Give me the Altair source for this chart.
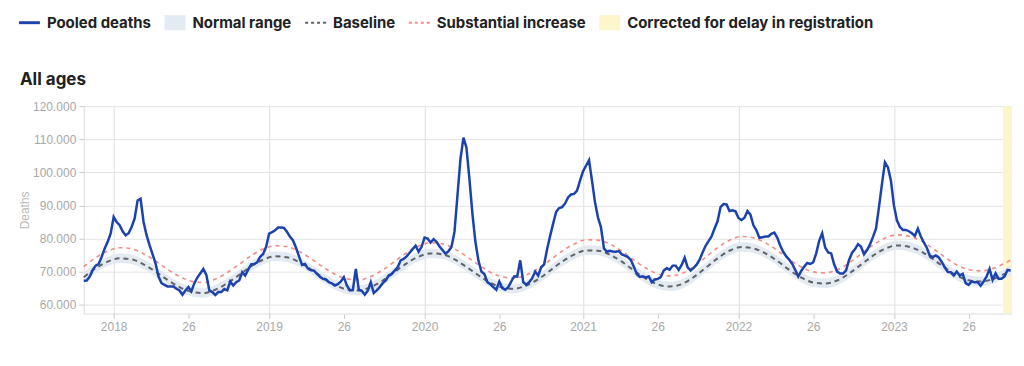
import altair as alt
import pandas as pd

# ---------------- data (deaths in thousands) ----------------
# weekly pooled deaths, week index 0 = 2017-W43 ... 310 = 2023-W40
pooled_deaths_k = [
    67.2, 67.3, 68.5, 70.5, 71.8, 72.3, 74.5, 77.0, 79.0, 81.5,
    86.5, 85.0, 84.0, 82.2, 81.0, 81.6, 83.5, 86.0, 91.5, 92.0,
    85.0, 81.0, 78.0, 75.3, 72.5, 68.5, 66.5, 66.0, 65.5, 65.5,
    65.5, 64.8, 64.3, 63.0, 64.3, 65.3, 64.0, 66.5, 68.2, 69.5,
    70.8, 69.0, 64.3, 63.8, 62.9, 63.8, 63.8, 64.7, 64.3, 67.0,
    65.8, 66.8, 67.3, 69.8, 68.8, 70.6, 72.2, 72.3, 72.8, 74.5,
    75.3, 77.5, 81.5, 81.9, 82.5, 83.3, 83.3, 83.2, 82.0, 80.5,
    79.4, 77.2, 74.6, 72.0, 72.3, 70.9, 70.4, 70.3, 69.3, 68.4,
    67.8, 67.6, 66.8, 66.4, 65.8, 66.2, 67.0, 68.3, 65.8, 64.3,
    64.4, 70.8, 64.5, 64.2, 63.0, 64.2, 66.8, 63.5, 64.3, 65.3,
    66.5, 67.3, 68.8, 69.3, 70.3, 71.3, 73.4, 73.8, 74.6, 75.7,
    76.8, 77.8, 76.0, 77.5, 80.3, 80.0, 78.8, 79.8, 79.0, 77.6,
    76.5, 75.4, 76.2, 77.4, 82.0, 93.0, 104.0, 110.5, 107.5, 98.0,
    87.5, 79.0, 73.4, 70.0, 69.3, 66.8, 66.2, 65.3, 64.5, 67.0,
    65.0, 64.5, 65.3, 67.0, 68.6, 68.5, 73.4, 66.8, 66.0, 66.8,
    68.0, 70.0, 68.8, 71.3, 72.2, 76.8, 80.8, 84.5, 88.0, 89.2,
    89.5, 90.6, 92.4, 93.3, 93.5, 94.5, 97.5, 100.3, 102.0, 103.7,
    97.5, 91.0, 86.4, 83.4, 77.0, 76.0, 76.3, 76.1, 76.0, 76.2,
    75.2, 74.8, 74.4, 73.5, 71.5, 69.2, 68.4, 68.6, 68.2, 68.5,
    66.8, 67.6, 67.8, 68.3, 70.3, 71.0, 70.6, 71.8, 71.8, 70.5,
    72.0, 74.2, 71.3, 70.3, 71.1, 72.1, 73.6, 75.8, 77.8, 79.2,
    80.6, 83.0, 85.2, 89.5, 90.4, 90.3, 88.3, 88.5, 88.2, 86.2,
    85.6, 86.3, 88.3, 87.2, 84.0, 82.5, 80.2, 80.4, 80.6, 80.6,
    81.4, 81.8, 80.2, 77.8, 75.9, 74.6, 73.6, 72.3, 70.5, 68.5,
    70.2, 71.5, 72.6, 72.3, 72.8, 75.5, 79.3, 81.6, 77.3, 75.8,
    75.5, 72.2, 70.0, 69.4, 69.4, 70.4, 73.5, 75.7, 76.8, 78.3,
    77.5, 75.2, 76.5, 78.2, 80.5, 83.0, 89.5, 96.5, 103.0, 101.5,
    97.5, 90.0, 85.5, 83.5, 82.6, 82.6, 82.2, 81.6, 80.8, 83.0,
    80.6, 78.8, 77.2, 74.8, 74.4, 74.9, 74.3, 72.9, 71.3, 69.9,
    69.8, 68.8, 70.0, 68.8, 69.3, 66.5, 66.0, 67.0, 66.8, 66.8,
    65.7, 67.0, 68.5, 70.8, 67.5, 69.5, 67.8, 67.8, 68.5, 70.5, 70.3,
]
weeks = list(range(len(pooled_deaths_k)))

# baseline / normal range / substantial increase read every 4 weeks
curve_weeks = list(range(0, 309, 4)) + [310]
baseline_k = [
    68.3, 71.0, 73.0, 74.0, 73.7, 72.2, 70.0, 67.5, 65.3, 63.9,
    63.5, 64.5, 66.5, 69.0, 71.6, 73.6, 74.6, 74.3, 72.9, 70.7,
    68.2, 66.0, 64.6, 64.3, 65.3, 67.3, 69.9, 72.5, 74.5, 75.5,
    75.2, 73.7, 71.4, 68.9, 66.6, 65.2, 64.8, 65.8, 67.7, 70.3,
    73.0, 75.1, 76.4, 76.3, 75.1, 73.0, 70.3, 67.9, 66.1, 65.5,
    66.2, 68.3, 71.1, 74.0, 76.3, 77.4, 77.0, 75.5, 73.2, 70.5,
    68.2, 66.7, 66.4, 67.3, 69.4, 72.1, 74.8, 76.9, 77.9, 77.5,
    76.1, 73.8, 71.2, 68.8, 67.4, 67.0, 67.7, 69.3, 70.3,
]
normal_low_k = [
    66.9, 69.6, 71.6, 72.6, 72.3, 70.8, 68.6, 66.1, 63.9, 62.5,
    62.1, 63.1, 65.1, 67.6, 70.2, 72.2, 73.2, 72.9, 71.5, 69.3,
    66.8, 64.6, 63.2, 62.9, 63.9, 65.9, 68.5, 71.1, 73.1, 74.1,
    73.8, 72.3, 70.0, 67.5, 65.2, 63.8, 63.4, 64.4, 66.3, 68.9,
    71.6, 73.7, 75.0, 74.9, 73.7, 71.6, 68.9, 66.5, 64.7, 64.1,
    64.8, 66.9, 69.7, 72.6, 74.9, 76.0, 75.6, 74.1, 71.8, 69.1,
    66.8, 65.3, 65.0, 65.9, 68.0, 70.7, 73.4, 75.5, 76.5, 76.1,
    74.7, 72.4, 69.8, 67.4, 66.0, 65.6, 66.3, 67.9, 68.9,
]
normal_high_k = [
    69.8, 72.5, 74.5, 75.5, 75.2, 73.7, 71.5, 69.0, 66.8, 65.4,
    65.0, 66.0, 68.0, 70.5, 73.1, 75.1, 76.1, 75.8, 74.4, 72.2,
    69.7, 67.5, 66.1, 65.8, 66.8, 68.8, 71.4, 74.0, 76.0, 77.0,
    76.7, 75.2, 72.9, 70.4, 68.1, 66.7, 66.3, 67.3, 69.2, 71.8,
    74.5, 76.6, 77.9, 77.8, 76.6, 74.5, 71.8, 69.4, 67.6, 67.0,
    67.7, 69.8, 72.6, 75.5, 77.8, 78.9, 78.5, 77.0, 74.7, 72.0,
    69.7, 68.2, 67.9, 68.8, 70.9, 73.6, 76.3, 78.4, 79.4, 79.0,
    77.6, 75.3, 72.7, 70.3, 68.9, 68.5, 69.2, 70.8, 71.8,
]
substantial_k = [
    71.5, 74.2, 76.2, 77.2, 76.9, 75.4, 73.2, 70.7, 68.5, 67.1,
    66.7, 67.7, 69.7, 72.2, 74.8, 76.8, 77.8, 77.5, 76.1, 73.9,
    71.4, 69.2, 67.8, 67.5, 68.5, 70.5, 73.1, 75.7, 77.7, 78.7,
    78.4, 76.9, 74.6, 72.1, 69.8, 68.4, 68.0, 69.0, 70.9, 73.5,
    76.2, 78.3, 79.6, 79.5, 78.3, 76.2, 73.5, 71.1, 69.3, 68.7,
    69.4, 71.5, 74.3, 77.2, 79.5, 80.6, 80.2, 78.7, 76.4, 73.7,
    71.4, 69.9, 69.6, 70.5, 72.6, 75.3, 78.0, 80.1, 81.1, 80.7,
    79.3, 77.0, 74.4, 72.0, 70.6, 70.2, 70.9, 72.5, 73.5,
]

corrected_span = [307.5, 310.5]

tick_weeks = [10, 35, 62, 87, 114, 139, 167, 192, 219, 244, 271, 296]
tick_labels = ["2018", "26", "2019", "26", "2020", "26", "2021", "26", "2022", "26", "2023", "26"]
year_weeks = [10, 62, 114, 167, 219, 271]
y_ticks = [60000, 70000, 80000, 90000, 100000, 110000, 120000]

series_names = ["Pooled deaths", "Normal range", "Baseline", "Substantial increase",
                "Corrected for delay in registration"]
series_colors = ["#1c43ad", "#e3eaf1", "#606468", "#f28c86", "#fdf5cb"]
color_of = dict(zip(series_names, series_colors))

# legend glyphs (unit-box SVG paths): solid line, box, dotted line
LINE = "M-1,-0.14H1V0.14H-1Z"
BOX = "M-1,-0.72H1V0.72H-1Z"
DOTS = ("M-1,-0.1H-0.71V0.1H-1Z M-0.43,-0.1H-0.14V0.1H-0.43Z "
        "M0.14,-0.1H0.43V0.1H0.14Z M0.71,-0.1H1V0.1H0.71Z")
series_glyphs = [LINE, BOX, DOTS, DOTS, BOX]

# ---------------- tables ----------------
pooled_df = pd.DataFrame({"week": weeks, "deaths": [v * 1000 for v in pooled_deaths_k]})
baseline_df = pd.DataFrame({"week": curve_weeks, "deaths": [v * 1000 for v in baseline_k]})
subst_df = pd.DataFrame({"week": curve_weeks, "deaths": [v * 1000 for v in substantial_k]})
band_df = pd.DataFrame({"week": curve_weeks, "lo": [v * 1000 for v in normal_low_k],
                        "hi": [v * 1000 for v in normal_high_k]})
corr_df = pd.DataFrame({"start": [corrected_span[0]], "end": [corrected_span[1]]})
legend_df = pd.DataFrame({"series": series_names})

# ---------------- encodings ----------------
legend_props = dict(
    title=None, orient="none", legendX=-65, legendY=-94.5, direction="horizontal",
    labelFont="Inter", labelFontSize=15, labelFontWeight="bold", labelColor="#222222",
    labelLimit=400, labelOffset=7, columnPadding=13, symbolSize=441, padding=0,
    symbolStrokeWidth=0, symbolOpacity=1,
)

x_scale = alt.Scale(domain=[0, 310.5], nice=False, zero=False)
x_axis = alt.Axis(
    values=tick_weeks,
    labelExpr=f"{tick_labels}[indexof({tick_weeks}, datum.value)]",
    grid=True,
    gridOpacity={"condition": {"test": f"indexof({year_weeks}, datum.value) >= 0", "value": 1}, "value": 0},
    gridColor="#dedede", tickSize=5, tickColor="#cccccc", domainColor="#dddddd",
    labelColor="#a8a8a8", labelFont="Liberation Sans", labelFontSize=12, labelPadding=3,
    title=None,
)
y_scale = alt.Scale(domain=[57300, 120000], nice=False, zero=False)
y_axis = alt.Axis(
    values=y_ticks,
    labelExpr="replace(format(datum.value, ','), ',', '.')",
    gridColor="#e4e4e4", tickSize=5, tickColor="#cccccc", domainColor="#dddddd",
    labelColor="#a8a8a8", labelFont="Liberation Sans", labelFontSize=12, labelPadding=3,
    titleColor="#b8b8b8", titleFont="Liberation Sans", titleFontSize=12,
    titleFontWeight="normal", titlePadding=1,
)

X = alt.X("week:Q", scale=x_scale, axis=x_axis, title=None)
Y = alt.Y("deaths:Q", scale=y_scale, axis=y_axis, title="Deaths")

corr = alt.Chart(corr_df).mark_rect(opacity=1, color=color_of["Corrected for delay in registration"]).encode(
    x=alt.X("start:Q", scale=x_scale, axis=x_axis, title=None), x2="end:Q")

band = alt.Chart(band_df).mark_area(opacity=1, interpolate="monotone",
                                    color=color_of["Normal range"]).encode(
    x=X, y=alt.Y("lo:Q", scale=y_scale, axis=y_axis, title="Deaths"), y2="hi:Q")

base = alt.Chart(baseline_df).mark_line(strokeDash=[5, 4], strokeWidth=2, interpolate="monotone",
                                        color=color_of["Baseline"]).encode(x=X, y=Y)

subst = alt.Chart(subst_df).mark_line(strokeDash=[4, 4], strokeWidth=1.6, interpolate="monotone",
                                      color=color_of["Substantial increase"]).encode(x=X, y=Y)

pooled = alt.Chart(pooled_df).mark_line(strokeWidth=2.5, color=color_of["Pooled deaths"]).encode(x=X, y=Y)

# legend-only layer (no marks drawn): colour + glyph per series
legend_layer = alt.Chart(legend_df).mark_point(filled=True, opacity=1, strokeWidth=0).encode(
    color=alt.Color("series:N", scale=alt.Scale(domain=series_names, range=series_colors),
                    legend=alt.Legend(**legend_props)),
    shape=alt.Shape("series:N", scale=alt.Scale(domain=series_names, range=series_glyphs),
                    legend=alt.Legend(**legend_props)),
).transform_filter("false")

chart = alt.layer(corr, band, base, subst, pooled, legend_layer).properties(
    width=931, height=208,
    padding={"left": 10, "top": 3, "right": 0, "bottom": 5},
    title=alt.TitleParams(
        "All ages", anchor="start", frame="group", font="Inter", fontSize=17,
        fontWeight="bold", color="#222222", dx=-64, offset=0, baseline="alphabetic", dy=90,
    ),
).configure_view(strokeWidth=0)

chart.save("out.html", embed_options={"renderer": "svg", "actions": False})
